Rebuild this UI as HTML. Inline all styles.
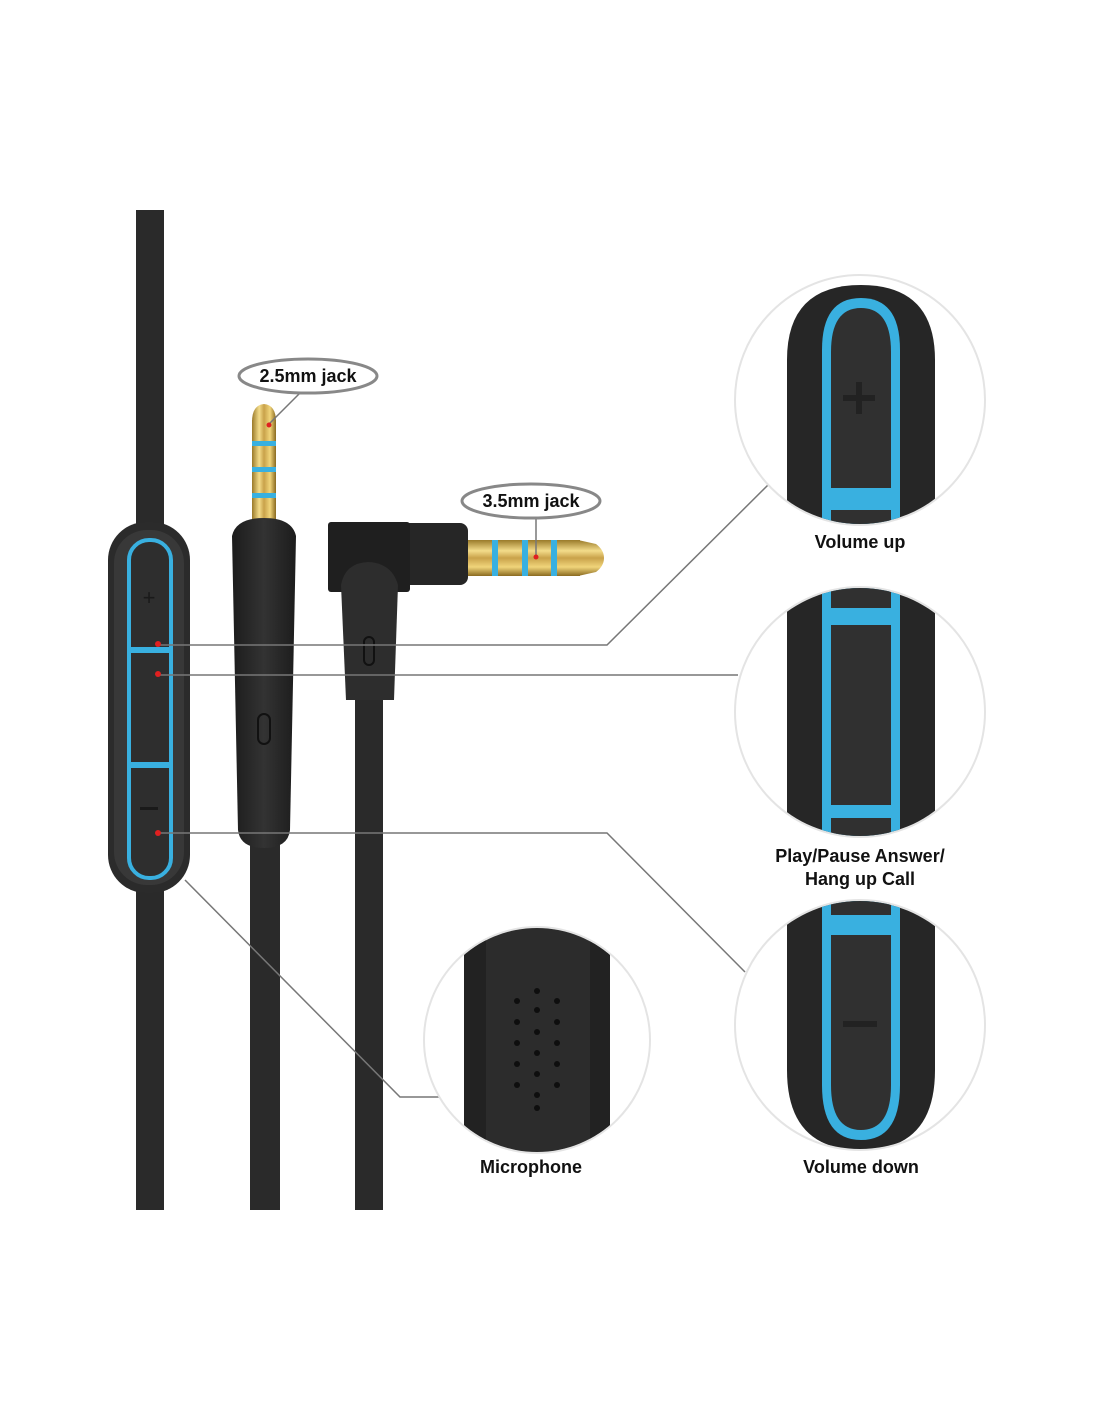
<!DOCTYPE html>
<html><head><style>body{margin:0;background:#fff}svg{display:block}text{font-family:"Liberation Sans",sans-serif;font-weight:bold;fill:#111}</style></head>
<body>
<svg width="1100" height="1422" viewBox="0 0 1100 1422" xmlns="http://www.w3.org/2000/svg">
<defs>
<linearGradient id="gold" x1="0" x2="1"><stop offset="0" stop-color="#9a7a2a"/><stop offset=".3" stop-color="#f3dc8a"/><stop offset=".5" stop-color="#c9a24a"/><stop offset=".75" stop-color="#f0d47a"/><stop offset="1" stop-color="#8a6a20"/></linearGradient>
<linearGradient id="goldv" x1="0" y1="0" x2="0" y2="1"><stop offset="0" stop-color="#9a7a2a"/><stop offset=".3" stop-color="#f3dc8a"/><stop offset=".5" stop-color="#c9a24a"/><stop offset=".75" stop-color="#f0d47a"/><stop offset="1" stop-color="#8a6a20"/></linearGradient>
<linearGradient id="body" x1="0" x2="1"><stop offset="0" stop-color="#1c1c1c"/><stop offset=".5" stop-color="#333"/><stop offset="1" stop-color="#1c1c1c"/></linearGradient>
<clipPath id="c1"><circle cx="860" cy="400" r="124"/></clipPath>
<clipPath id="c2"><circle cx="860" cy="712" r="124"/></clipPath>
<clipPath id="c3"><circle cx="860" cy="1025" r="124"/></clipPath>
<clipPath id="c4"><circle cx="537" cy="1040" r="112"/></clipPath>
</defs>
<!-- cables -->
<rect x="136" y="210" width="28" height="1000" fill="#2a2a2a"/>
<rect x="250" y="840" width="30" height="370" fill="#2a2a2a"/>
<rect x="355" y="690" width="28" height="520" fill="#2a2a2a"/>
<!-- remote -->
<rect x="108" y="522" width="82" height="371" rx="38" fill="#2b2b2b"/>
<rect x="114" y="530" width="70" height="355" rx="33" fill="#383838"/>
<rect x="129" y="540" width="42" height="338" rx="20" fill="#2e2e2e" stroke="#39b0e0" stroke-width="4"/>
<rect x="129" y="647" width="42" height="6" fill="#39b0e0"/>
<rect x="129" y="762" width="42" height="6" fill="#39b0e0"/>
<text x="149" y="605" font-size="22" text-anchor="middle" style="fill:#1a1a1a;font-weight:normal">+</text>
<rect x="140" y="807" width="18" height="3" fill="#1a1a1a"/>
<!-- 2.5 jack -->
<rect x="252" y="420" width="24" height="100" fill="url(#gold)"/>
<path d="M252 422 Q252 405 264 404 Q276 405 276 422 Z" fill="url(#gold)"/>
<rect x="252" y="441" width="24" height="5" fill="#39b0e0"/>
<rect x="252" y="467" width="24" height="5" fill="#39b0e0"/>
<rect x="252" y="493" width="24" height="5" fill="#39b0e0"/>
<path d="M232 536 Q236 518 264 518 Q292 518 296 536 L290 830 Q288 848 264 848 Q240 848 238 830 Z" fill="url(#body)"/>
<rect x="258" y="714" width="12" height="30" rx="6" fill="none" stroke="#111" stroke-width="2"/>
<!-- 3.5 jack -->
<rect x="465" y="540" width="115" height="36" fill="url(#goldv)"/>
<path d="M578 540 L596 544 Q604 550 604 558 Q604 566 596 572 L578 576 Z" fill="url(#goldv)"/>
<rect x="492" y="540" width="6" height="36" fill="#39b0e0"/>
<rect x="522" y="540" width="6" height="36" fill="#39b0e0"/>
<rect x="551" y="540" width="6" height="36" fill="#39b0e0"/>
<rect x="400" y="523" width="68" height="62" rx="8" fill="#262626"/>
<rect x="328" y="522" width="82" height="70" rx="3" fill="#1f1f1f"/>
<path d="M341 585 Q345 563 368 562 Q392 563 398 585 L394 700 L346 700 Z" fill="#2d2d2d"/>
<rect x="364" y="637" width="10" height="28" rx="5" fill="none" stroke="#111" stroke-width="2"/>
<!-- connector lines -->
<g stroke="#777" stroke-width="1.5" fill="none">
<polyline points="160,645 607,645 768,485"/>
<polyline points="160,675 738,675"/>
<polyline points="160,833 607,833 745,972"/>
<polyline points="185,880 400,1097 440,1097"/>
<line x1="268" y1="425" x2="300" y2="393"/>
<line x1="536" y1="518" x2="536" y2="556"/>
</g>
<g fill="#e02020">
<circle cx="158" cy="644" r="3"/><circle cx="158" cy="674" r="3"/><circle cx="158" cy="833" r="3"/>
<circle cx="269" cy="425" r="2.5"/><circle cx="536" cy="557" r="2.5"/>
</g>
<!-- labels -->
<ellipse cx="308" cy="376" rx="69" ry="17" fill="#fff" stroke="#888" stroke-width="3"/>
<text x="308" y="382" font-size="18" text-anchor="middle">2.5mm jack</text>
<ellipse cx="531" cy="501" rx="69" ry="17" fill="#fff" stroke="#888" stroke-width="3"/>
<text x="531" y="507" font-size="18" text-anchor="middle">3.5mm jack</text>
<!-- circles -->
<g>
<circle cx="860" cy="400" r="125" fill="#fff" stroke="#e4e4e4" stroke-width="2"/>
<g clip-path="url(#c1)">
<path d="M787 360 Q787 285 861 285 Q935 285 935 360 L935 560 L787 560 Z" fill="#262626"/>
<path d="M822 350 Q822 298 861 298 Q900 298 900 350 L900 560 L822 560 Z" fill="#39b0e0"/>
<path d="M831 352 Q831 308 861 308 Q891 308 891 352 L891 488 L831 488 Z" fill="#303030"/>
<rect x="831" y="510" width="60" height="40" fill="#303030"/>
<rect x="856" y="382" width="6" height="32" fill="#222"/><rect x="843" y="395" width="32" height="6" fill="#222"/>
</g>
<circle cx="860" cy="712" r="125" fill="#fff" stroke="#e4e4e4" stroke-width="2"/>
<g clip-path="url(#c2)">
<rect x="787" y="580" width="148" height="270" fill="#262626"/>
<rect x="822" y="580" width="78" height="270" fill="#39b0e0"/>
<rect x="831" y="580" width="60" height="28" fill="#303030"/>
<rect x="831" y="625" width="60" height="180" fill="#303030"/>
<rect x="831" y="818" width="60" height="30" fill="#303030"/>
</g>
<circle cx="860" cy="1025" r="125" fill="#fff" stroke="#e4e4e4" stroke-width="2"/>
<g clip-path="url(#c3)">
<path d="M787 890 L935 890 L935 1070 Q935 1150 861 1150 Q787 1150 787 1070 Z" fill="#262626"/>
<path d="M822 890 L900 890 L900 1085 Q900 1140 861 1140 Q822 1140 822 1085 Z" fill="#39b0e0"/>
<rect x="831" y="890" width="60" height="25" fill="#303030"/>
<path d="M831 935 L891 935 L891 1085 Q891 1130 861 1130 Q831 1130 831 1085 Z" fill="#303030"/>
<rect x="843" y="1021" width="34" height="6" fill="#222"/>
</g>
<circle cx="537" cy="1040" r="113" fill="#fff" stroke="#e4e4e4" stroke-width="2"/>
<g clip-path="url(#c4)">
<rect x="464" y="920" width="146" height="240" fill="#2c2c2c"/>
<rect x="464" y="920" width="22" height="240" fill="#222"/>
<rect x="590" y="920" width="20" height="240" fill="#222"/>
<g fill="#0e0e0e">
<circle cx="537" cy="991" r="3"/>
<circle cx="517" cy="1001" r="3"/><circle cx="557" cy="1001" r="3"/>
<circle cx="537" cy="1010" r="3"/>
<circle cx="517" cy="1022" r="3"/><circle cx="557" cy="1022" r="3"/>
<circle cx="537" cy="1032" r="3"/>
<circle cx="517" cy="1043" r="3"/><circle cx="557" cy="1043" r="3"/>
<circle cx="537" cy="1053" r="3"/>
<circle cx="517" cy="1064" r="3"/><circle cx="557" cy="1064" r="3"/>
<circle cx="537" cy="1074" r="3"/>
<circle cx="517" cy="1085" r="3"/><circle cx="557" cy="1085" r="3"/>
<circle cx="537" cy="1095" r="3"/>
<circle cx="537" cy="1108" r="3"/>
</g>
</g>
</g>
<text x="860" y="548" font-size="18" text-anchor="middle">Volume up</text>
<text x="860" y="862" font-size="18" text-anchor="middle">Play/Pause Answer/</text>
<text x="860" y="885" font-size="18" text-anchor="middle">Hang up Call</text>
<text x="861" y="1173" font-size="18" text-anchor="middle">Volume down</text>
<text x="531" y="1173" font-size="18" text-anchor="middle">Microphone</text>
</svg>
</body></html>
